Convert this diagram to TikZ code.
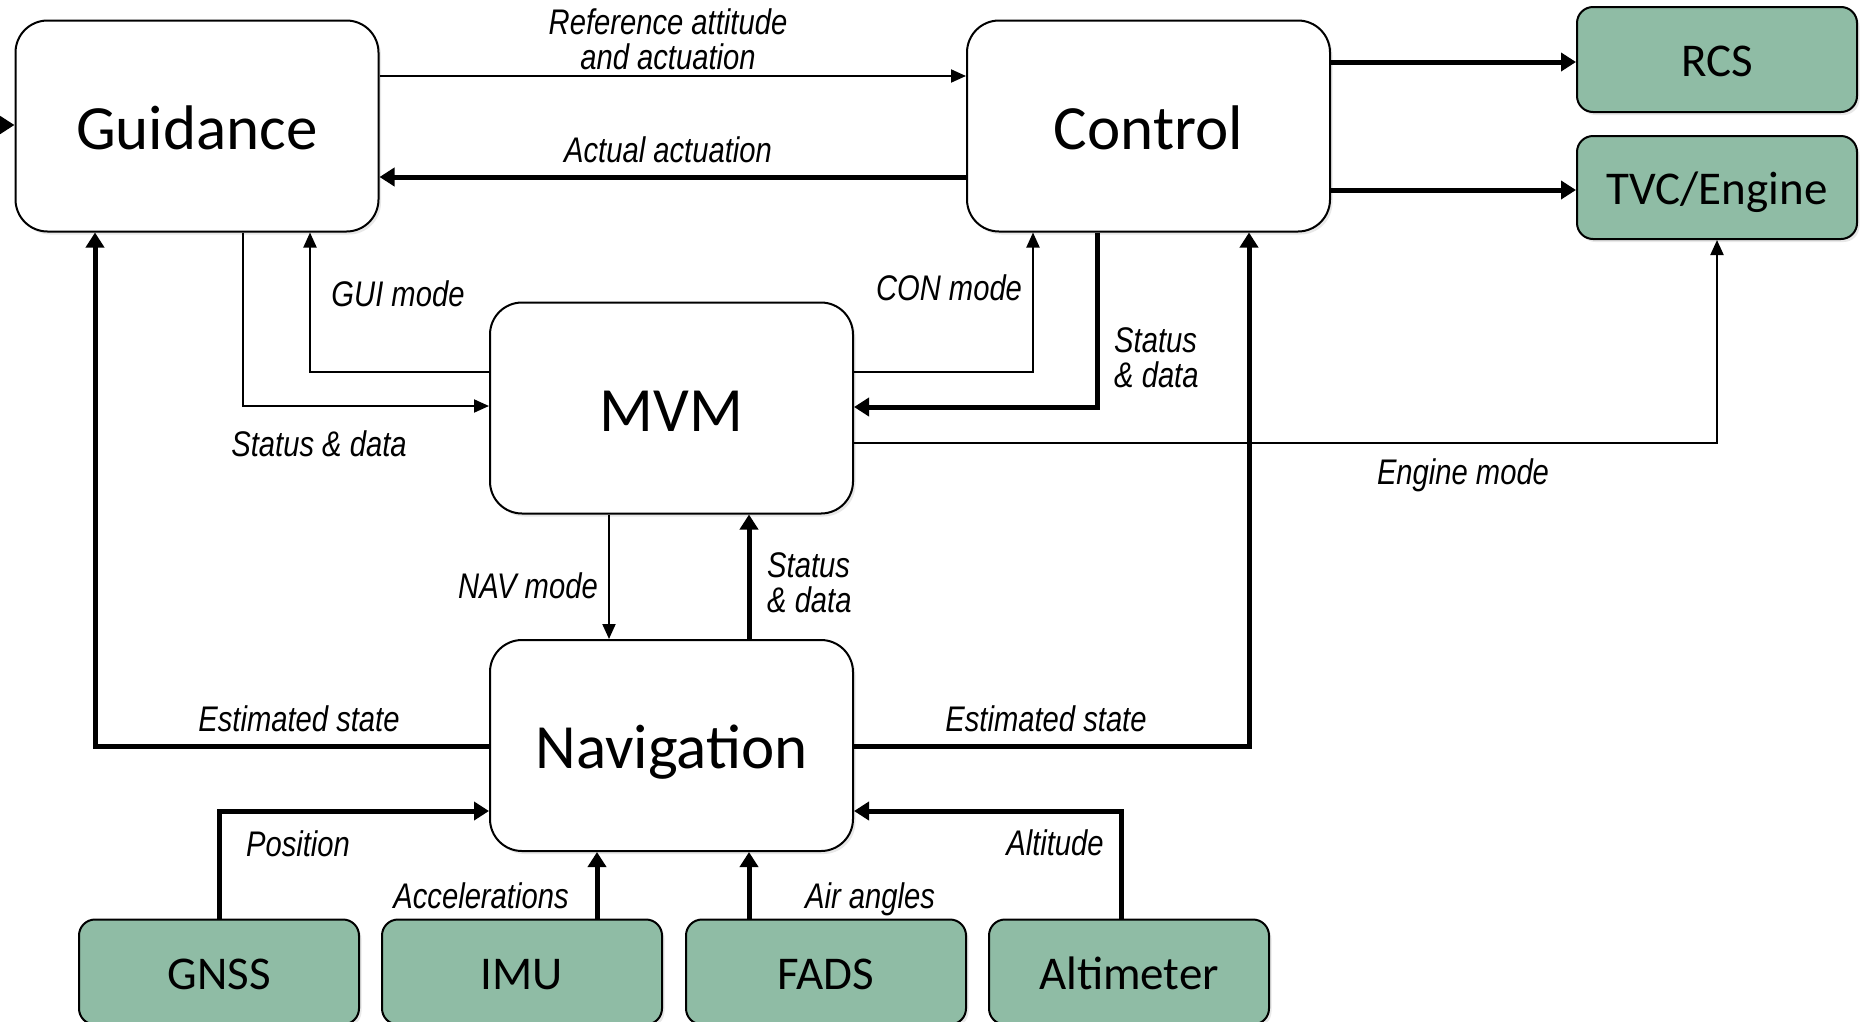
\documentclass[tikz,border=0pt]{standalone}
\usepackage{fontspec}
\setmainfont{Carlito}
\newfontfamily\lblfont[FakeStretch=0.82]{Liberation Sans}
\usetikzlibrary{arrows.meta,shadows}

\definecolor{sensorgreen}{HTML}{8FBCA5}

\tikzset{
  block/.style={draw=black, line width=2pt, fill=white, rounded corners=32pt,
    minimum width=363pt, minimum height=211pt, inner sep=0pt,
    text height=46.6pt, text depth=0pt,
    font=\fontsize{63}{70}\selectfont,
    drop shadow={shadow xshift=2.5pt, shadow yshift=-3pt, opacity=0.18}},
  hwbox/.style={draw=black, line width=2pt, fill=sensorgreen, rounded corners=16pt,
    minimum width=280pt, minimum height=105pt, inner sep=0pt,
    text height=34.3pt, text depth=0pt,
    font=\fontsize{47}{52}\selectfont,
    drop shadow={shadow xshift=2.5pt, shadow yshift=-3pt, opacity=0.18}},
  thinflow/.style={line width=2pt, -{Triangle[length=15pt,width=13pt]}},
  thickflow/.style={line width=5pt, -{Triangle[length=15pt,width=18pt]}},
  lbl/.style={inner sep=0pt, text height=25.6pt, text depth=0pt,
    font=\lblfont\itshape\fontsize{35.6}{36}\selectfont},
}

\begin{document}
\begin{tikzpicture}[x=1pt, y=-1pt]
\useasboundingbox (0,0) rectangle (1868,1021);
\clip (0,0) rectangle (1868,1021);

% main processing blocks
\node[block] (gui) at (197,126)    {Guidance};
\node[block] (con) at (1148.5,126) {Control};
\node[block] (mvm) at (671.5,408)  {MVM};
\node[block] (nav) at (671.5,745.5){Navigation};

% actuators
\node[hwbox, minimum height=105pt] (rcs) at (1717,59.5)  {RCS};
\node[hwbox, minimum height=103pt] (tvc) at (1717,187.5) {TVC/Engine};

% sensors
\node[hwbox] (gnss) at (219,972)  {GNSS};
\node[hwbox] (imu)  at (522,972)  {IMU};
\node[hwbox] (fads) at (826,972)  {FADS};
\node[hwbox] (alt)  at (1129,972) {Altimeter};

% external input into guidance
\coordinate (ext) at (0,125);
\draw[thickflow] (ext) -- (ext -| gui.west);

% guidance <-> control
\draw[thinflow]  (gui.east |- 0,76)  -- (con.west |- 0,76);
\draw[thickflow] (con.west |- 0,177) -- (gui.east |- 0,177);

% control -> actuators
\draw[thickflow] (con.east |- 0,62)  -- (rcs.west |- 0,62);
\draw[thickflow] (con.east |- 0,190) -- (tvc.west |- 0,190);

% mode management links
\draw[thinflow]  (gui.south -| 243,0) |- (mvm.west |- 0,406);
\draw[thinflow]  (mvm.west |- 0,372) -| (gui.south -| 310,0);
\draw[thinflow]  (mvm.east |- 0,372) -| (con.south -| 1033,0);
\draw[thickflow] (con.south -| 1097,0) |- (mvm.east |- 0,407);
\draw[thinflow]  (mvm.east |- 0,443) -| (tvc.south);
\draw[thinflow]  (mvm.south -| 609,0) -- (nav.north -| 609,0);
\draw[thickflow] (nav.north -| 749,0) -- (mvm.south -| 749,0);

% estimated state distribution
\draw[thickflow] (nav.west |- 0,746) -| (gui.south -| 95,0);
\draw[thickflow] (nav.east |- 0,746) -| (con.south -| 1249,0);

% sensor inputs
\draw[thickflow] (gnss.north) |- (nav.west |- 0,811);
\draw[thickflow] (imu.north -| 597,0) -- (nav.south -| 597,0);
\draw[thickflow] (fads.north -| 749,0) -- (nav.south -| 749,0);
\draw[thickflow] (alt.north -| 1121,0) |- (nav.east |- 0,811);

% signal labels
\node[lbl] (l1a) at (668,22)  {Reference attitude};
\node[lbl] (l1b) at (668,57)  {and actuation};
\node[lbl] (l2)  at (668,150) {Actual actuation};
\node[lbl] (l3)  at (398,294) {GUI mode};
\node[lbl] (l4)  at (949,288) {CON mode};
\node[lbl] (l5)  at (319,444) {Status \& data};
\node[lbl, anchor=west] (l6a) at (1114,340) {Status};
\node[lbl, anchor=west] (l6b) at (1114,375) {\& data};
\node[lbl] (l7)  at (1463,472) {Engine mode};
\node[lbl] (l8)  at (528,586) {NAV mode};
\node[lbl, anchor=west] (l9a) at (767,565) {Status};
\node[lbl, anchor=west] (l9b) at (767,600) {\& data};
\node[lbl] (l10) at (299,719) {Estimated state};
\node[lbl] (l11) at (1046,719) {Estimated state};
\node[lbl] (l12) at (298,844) {Position};
\node[lbl] (l13) at (481,896) {Accelerations};
\node[lbl] (l14) at (870,896) {Air angles};
\node[lbl] (l15) at (1055,843) {Altitude};
\end{tikzpicture}
\end{document}
